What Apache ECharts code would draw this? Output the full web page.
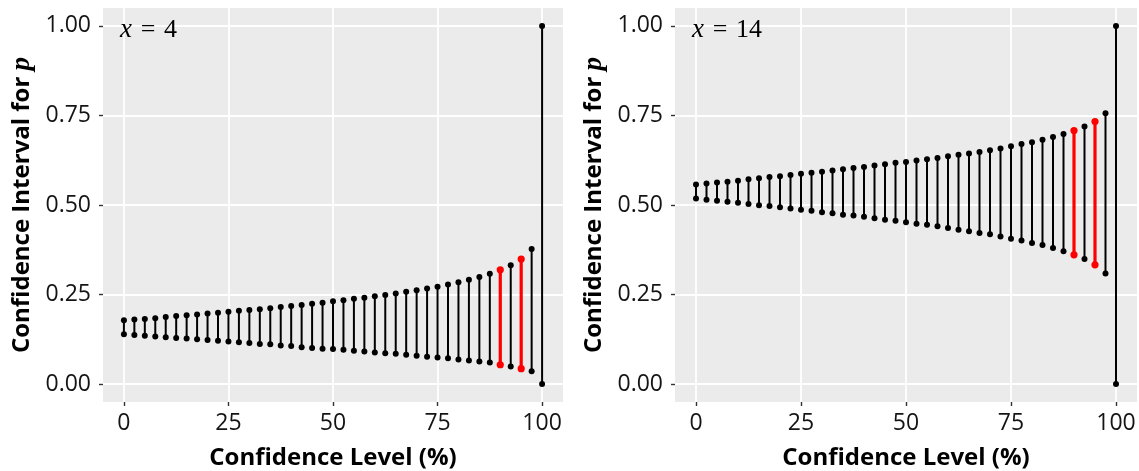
<!DOCTYPE html>
<html>
<head>
<meta charset="utf-8">
<script src="https://cdn.jsdelivr.net/npm/echarts@6/dist/echarts.min.js"></script>
<style>
  html, body { margin: 0; padding: 0; background: #ffffff; }
  #chart { width: 1139px; height: 471px; }
</style>
</head>
<body>
<div id="chart"></div>
<script>
// Confidence levels (%) at which each exact interval is drawn
const levels = [
  0, 2.5, 5, 7.5, 10, 12.5, 15, 17.5, 20, 22.5,
  25, 27.5, 30, 32.5, 35, 37.5, 40, 42.5, 45, 47.5,
  50, 52.5, 55, 57.5, 60, 62.5, 65, 67.5, 70, 72.5,
  75, 77.5, 80, 82.5, 85, 87.5, 90, 92.5, 95, 97.5, 100
];

// Interval end points for x = 4
const lowerX4 = [
  0.139, 0.137, 0.135, 0.133, 0.131, 0.129, 0.127, 0.125, 0.123, 0.121,
  0.119, 0.117, 0.115, 0.112, 0.111, 0.108, 0.106, 0.103, 0.101, 0.099,
  0.098, 0.096, 0.093, 0.091, 0.088, 0.086, 0.085, 0.082, 0.079, 0.076,
  0.074, 0.072, 0.069, 0.066, 0.063, 0.060, 0.054, 0.049, 0.043, 0.036, 0
];
const upperX4 = [
  0.178, 0.180, 0.182, 0.184, 0.187, 0.190, 0.192, 0.194, 0.197, 0.199,
  0.202, 0.205, 0.207, 0.209, 0.212, 0.215, 0.218, 0.221, 0.224, 0.227,
  0.231, 0.234, 0.238, 0.241, 0.245, 0.249, 0.253, 0.258, 0.262, 0.267,
  0.272, 0.278, 0.284, 0.291, 0.299, 0.308, 0.319, 0.332, 0.349, 0.377, 1
];

// Interval end points for x = 14
const lowerX14 = [
  0.518, 0.515, 0.512, 0.509, 0.506, 0.503, 0.499, 0.497, 0.494, 0.490,
  0.487, 0.484, 0.480, 0.477, 0.473, 0.471, 0.467, 0.463, 0.459, 0.456,
  0.452, 0.448, 0.445, 0.441, 0.436, 0.431, 0.427, 0.422, 0.418, 0.412,
  0.406, 0.401, 0.394, 0.388, 0.380, 0.371, 0.361, 0.349, 0.333, 0.309, 0
];
const upperX14 = [
  0.557, 0.560, 0.563, 0.565, 0.568, 0.572, 0.575, 0.578, 0.580, 0.584,
  0.587, 0.590, 0.593, 0.596, 0.600, 0.603, 0.606, 0.610, 0.614, 0.618,
  0.620, 0.624, 0.628, 0.631, 0.636, 0.640, 0.644, 0.648, 0.653, 0.658,
  0.664, 0.670, 0.675, 0.682, 0.690, 0.698, 0.708, 0.719, 0.733, 0.756, 1
];

// Levels drawn in red
const highlightLevels = [90, 95];

// Tick positions
const xTicks = [0, 25, 50, 75, 100];
const yTicks = [0, 0.25, 0.5, 0.75, 1];

// Panel captions (number of successes)
const panelX = ['4', '14'];

const SANS = '"Open Sans", "Noto Sans", sans-serif';
const MATH = '"Liberation Serif", "DejaVu Serif", serif';

const panels = [
  { left: 103, width: 460, lower: lowerX4, upper: upperX4 },
  { left: 675, width: 462, lower: lowerX14, upper: upperX14 }
];

const grids = panels.map(p => ({
  left: p.left, top: 8, width: p.width, height: 394,
  show: true, backgroundColor: '#EBEBEB', borderWidth: 0,
  containLabel: false, outerBoundsMode: 'none'
}));

const xAxes = panels.map((p, i) => ({
  type: 'value', gridIndex: i, min: -5, max: 105, position: 'bottom',
  axisLine: { show: false, onZero: false },
  axisTick: { show: true, customValues: xTicks, length: 4, lineStyle: { color: '#333333', width: 1.4 } },
  axisLabel: { customValues: xTicks, fontSize: 23, fontFamily: SANS, color: '#141414', margin: 10 },
  splitLine: { show: true, lineStyle: { color: '#ffffff', width: 1.8 } },
  name: 'Confidence Level (%)', nameLocation: 'middle', nameGap: 44,
  nameTextStyle: { fontSize: 24, fontWeight: 'bold', fontFamily: SANS, color: '#000000' }
}));

const yAxes = panels.map((p, i) => ({
  type: 'value', gridIndex: i, min: -0.05, max: 1.05, position: 'left',
  axisLine: { show: false, onZero: false },
  axisTick: { show: true, customValues: yTicks, length: 4, lineStyle: { color: '#333333', width: 1.4 } },
  axisLabel: {
    customValues: yTicks, fontSize: 23, fontFamily: SANS, color: '#141414', margin: 12,
    formatter: v => v.toFixed(2)
  },
  splitLine: { show: true, lineStyle: { color: '#ffffff', width: 1.8 } },
  name: '{t|Confidence Interval for }{p|p}', nameLocation: 'middle', nameGap: 67, nameRotate: 90,
  nameTextStyle: {
    rich: {
      t: { fontSize: 24, fontWeight: 'bold', fontFamily: SANS, color: '#000000' },
      p: { fontSize: 27, fontWeight: 'bold', fontStyle: 'italic', fontFamily: MATH, color: '#000000' }
    }
  }
}));

function intervalSeries(i) {
  const p = panels[i];
  return {
    type: 'custom', xAxisIndex: i, yAxisIndex: i, clip: false,
    data: levels.map((l, k) => [l, p.lower[k], p.upper[k]]),
    encode: { x: 0, y: [1, 2] },
    renderItem(params, api) {
      const lvl = api.value(0);
      const lo = api.coord([lvl, api.value(1)]);
      const hi = api.coord([lvl, api.value(2)]);
      const hl = highlightLevels.indexOf(lvl) >= 0;
      const color = hl ? '#FF0000' : '#000000';
      const r = hl ? 3.6 : 3.0;
      return {
        type: 'group',
        children: [
          { type: 'line', shape: { x1: lo[0], y1: lo[1], x2: hi[0], y2: hi[1] },
            style: { stroke: color, lineWidth: hl ? 3.2 : 2.0 } },
          { type: 'circle', shape: { cx: lo[0], cy: lo[1], r: r }, style: { fill: color } },
          { type: 'circle', shape: { cx: hi[0], cy: hi[1], r: r }, style: { fill: color } }
        ]
      };
    }
  };
}

const captions = panels.map((p, i) => ({
  type: 'text', x: p.left + 17, y: 30, z: 10,
  style: {
    text: '{i|x}{n|\u2004=\u2004' + panelX[i] + '}',
    verticalAlign: 'middle', align: 'left',
    rich: {
      i: { font: 'italic 27px "Liberation Serif", serif', fill: '#000000' },
      n: { font: '26px "Liberation Serif", serif', fill: '#000000' }
    }
  }
}));

const chart = echarts.init(document.getElementById('chart'), null, { renderer: 'canvas' });
chart.setOption({
  animation: false,
  backgroundColor: '#ffffff',
  grid: grids,
  xAxis: xAxes,
  yAxis: yAxes,
  series: [intervalSeries(0), intervalSeries(1)],
  graphic: captions
});
</script>
</body>
</html>
